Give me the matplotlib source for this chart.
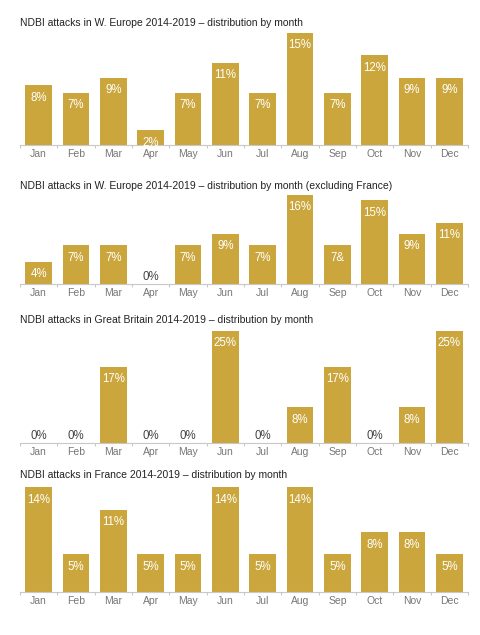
import matplotlib.pyplot as plt

months = ['Jan', 'Feb', 'Mar', 'Apr', 'May', 'Jun', 'Jul', 'Aug', 'Sep', 'Oct', 'Nov', 'Dec']

titles = [
    'NDBI attacks in W. Europe 2014-2019 – distribution by month',
    'NDBI attacks in W. Europe 2014-2019 – distribution by month (excluding France)',
    'NDBI attacks in Great Britain 2014-2019 – distribution by month',
    'NDBI attacks in France 2014-2019 – distribution by month',
]

w_europe = [8, 7, 9, 2, 7, 11, 7, 15, 7, 12, 9, 9]
w_europe_ex_france = [4, 7, 7, 0, 7, 9, 7, 16, 7, 15, 9, 11]
great_britain = [0, 0, 17, 0, 0, 25, 0, 8, 17, 0, 8, 25]
france = [14, 5, 11, 5, 5, 14, 5, 14, 5, 8, 8, 5]

# label text as printed on the chart (one typo kept)
w_europe_ex_france_labels = ['4%', '7%', '7%', '0%', '7%', '9%', '7%', '16%', '7&', '15%', '9%', '11%']

series = [w_europe, w_europe_ex_france, great_britain, france]
labels = [None, w_europe_ex_france_labels, None, None]

BAR = '#CBA63D'
FONT = ['Liberation Sans', 'DejaVu Sans']
plt.rcParams['font.family'] = FONT

fig = plt.figure(figsize=(4.8, 6.35), dpi=100)

# (baseline px, top px, title y px)
layout = [(145, 33, 23), (284.3, 194.7, 185.7), (443.3, 330.7, 320), (591.7, 487.3, 475)]
H = 635.0
W = 480.0

for data, labs, title, (base, top, ty) in zip(series, labels, titles, layout):
    ax = fig.add_axes([20 / W, 1 - base / H, 448 / W, (base - top) / H])
    x = range(len(months))
    ax.bar(x, data, width=0.72, color=BAR)
    ymax = max(data)
    ax.set_ylim(0, ymax)
    ax.set_xlim(-0.5, 11.5)
    ppx = (base - top) / ymax  # pixels per unit
    for i, v in enumerate(data):
        txt = labs[i] if labs else f'{v}%'
        if v == 0:
            ax.text(i, 7.5 / ppx, txt, ha='center', va='center', color='#444444', fontsize=8.3)
        else:
            ax.text(i, v - 12.5 / ppx, txt, ha='center', va='center', color='white', fontsize=8.3)
    for s in ['top', 'right', 'left']:
        ax.spines[s].set_visible(False)
    ax.spines['bottom'].set_color('#c8c8c8')
    ax.spines['bottom'].set_linewidth(0.8)
    ax.set_yticks([])
    ax.set_xticks(list(x))
    ax.set_xticklabels(months, fontsize=7.5, color='#777777')
    ax.tick_params(axis='x', which='major', length=0, pad=3)
    ax.set_xticks([i - 0.5 for i in range(13)], minor=True)
    ax.tick_params(axis='x', which='minor', length=2.5, color='#c8c8c8', width=0.8)
    fig.text(20.5 / W, 1 - ty / H, title, ha='left', va='center', fontsize=7.45, color='#222222')

fig.savefig('out.png', dpi=100)
